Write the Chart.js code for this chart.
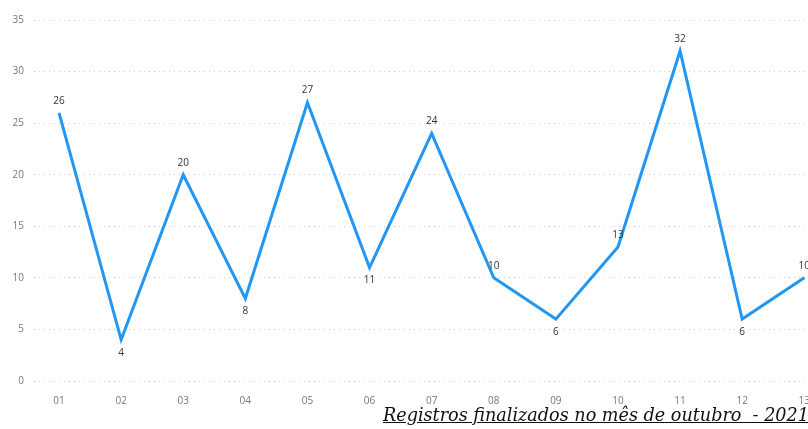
<!DOCTYPE html>
<html>
<head>
<meta charset="utf-8">
<script src="https://cdn.jsdelivr.net/npm/chart.js@4"></script>
<style>
  html, body { margin: 0; padding: 0; background: #fff; overflow: hidden; }
  #wrap { position: relative; width: 808px; height: 429px; overflow: hidden; }
  #titulo {
    position: absolute; left: 383px; top: 405px; white-space: nowrap;
    font-family: "DejaVu Serif", serif; font-style: italic; font-size: 17.6px;
    color: #111; text-decoration: underline;
  }
</style>
</head>
<body>
<div id="wrap">
  <canvas id="mycanvas" width="816" height="429"></canvas>
  <div id="titulo">Registros finalizados no mês de outubro&nbsp; - 2021</div>
</div>
<script>
var dias = ['01','02','03','04','05','06','07','08','09','10','11','12','13'];
var registros = [26, 4, 20, 8, 27, 11, 24, 10, 6, 13, 32, 6, 10];
var yTicks = [0, 5, 10, 15, 20, 25, 30, 35];

// rótulos de valor acima/abaixo dos pontos
var rotulos = {
  id: 'rotulos',
  afterDatasetsDraw: function(chart) {
    var ctx = chart.ctx;
    var meta = chart.getDatasetMeta(0);
    ctx.save();
    ctx.font = '10px "Open Sans", sans-serif';
    ctx.fillStyle = '#333';
    ctx.textAlign = 'center';
    ctx.textBaseline = 'middle';
    meta.data.forEach(function(pt, i) {
      var v = registros[i];
      var prev = i > 0 ? registros[i - 1] : Infinity;
      var next = i < registros.length - 1 ? registros[i + 1] : Infinity;
      var baixo = v < prev && v < next;
      ctx.fillText(String(v), pt.x, baixo ? pt.y + 13 : pt.y - 12);
    });
    ctx.restore();
  }
};

var ctx = document.getElementById('mycanvas');
new Chart(ctx, {
  type: 'line',
  data: {
    datasets: [{
      data: registros.map(function(v, i) { return { x: i + 1, y: v }; }),
      borderColor: 'rgb(33,150,243)',
      borderWidth: 3,
      pointRadius: 0,
      tension: 0,
      fill: false
    }]
  },
  options: {
    responsive: false,
    animation: false,
    layout: { padding: { top: 20, right: 0, left: 0, bottom: 0 } },
    plugins: { legend: { display: false }, tooltip: { enabled: false } },
    scales: {
      x: {
        type: 'linear',
        min: 0.597,
        max: 13.07,
        grid: { display: false },
        border: { display: false },
        afterBuildTicks: function(scale) {
          scale.ticks = dias.map(function(d, i) { return { value: i + 1 }; });
        },
        afterFit: function(scale) { scale.height = 48; },
        ticks: {
          autoSkip: false,
          maxRotation: 0,
          padding: 6,
          color: '#777',
          font: { size: 10, family: '"Open Sans", sans-serif' },
          callback: function(v) { return dias[v - 1]; }
        }
      },
      y: {
        min: 0,
        max: 35,
        afterBuildTicks: function(scale) {
          scale.ticks = yTicks.map(function(t) { return { value: t }; });
        },
        afterFit: function(scale) { scale.width = 34; },
        border: { display: false, dash: [1, 4] },
        grid: {
          color: '#cfcfcf',
          lineWidth: 1,
          drawTicks: false
        },
        ticks: {
          padding: 10,
          color: '#777',
          font: { size: 10, family: '"Open Sans", sans-serif' }
        }
      }
    }
  },
  plugins: [rotulos]
});
</script>
</body>
</html>
